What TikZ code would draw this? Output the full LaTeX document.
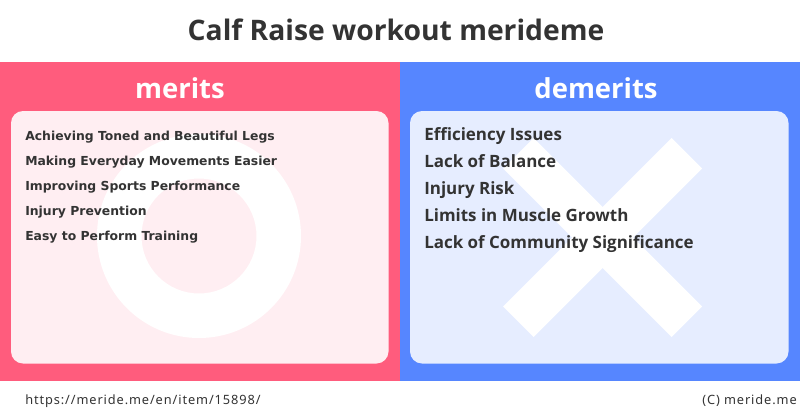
\documentclass[tikz,border=0pt]{standalone}
\usepackage{fontspec}
\setmainfont{Open Sans}
\newfontfamily\leftfont{DejaVu Sans}
\newfontfamily\footfont[LetterSpace=7]{Noto Sans}
\definecolor{pinkbar}{HTML}{FF5C7D}
\definecolor{bluebar}{HTML}{5686FF}
\definecolor{pinkcard}{HTML}{FFEEF2}
\definecolor{bluecard}{HTML}{E6EDFF}
\definecolor{ink}{HTML}{333333}
\tikzset{
  x=0.75pt,y=-0.75pt,
  head/.style={text=white,font=\bfseries\fontsize{20.6pt}{24pt}\selectfont,anchor=center,inner sep=0},
  card/.style={rounded corners=9pt},
  lefttext/.style={text=ink,font=\leftfont\bfseries\fontsize{9.3pt}{12pt}\selectfont,anchor=base west,inner sep=0},
  righttext/.style={text=ink,font=\bfseries\fontsize{12.72pt}{15pt}\selectfont,anchor=base west,inner sep=0},
  foot/.style={text=ink,font=\footfont\fontsize{9.6pt}{12pt}\selectfont,anchor=base,inner sep=0}
}
\begin{document}
\begin{tikzpicture}
\useasboundingbox (0,0) rectangle (800,418);
\fill[white] (0,0) rectangle (800,418);
\fill[pinkbar] (0,62) rectangle (400,381);
\fill[bluebar] (400,62) rectangle (800,381);
\fill[pinkcard,card] (11,111) rectangle (388.5,363.5);
\fill[bluecard,card] (410,111) rectangle (788.5,363.5);
\fill[white,even odd rule] (199,236) circle[radius=102] (199,236) circle[radius=57.5];
\fill[white] (503,306.5) -- (671.5,138) -- (702,168.5) -- (533.5,337) -- cycle;
\fill[white] (533.5,138) -- (702,306.5) -- (671.5,337) -- (503,168.5) -- cycle;
\node[text=ink,font=\bfseries\fontsize{21.2pt}{25pt}\selectfont,inner sep=0] (title) at (396,30) {Calf Raise workout merideme};
\node[head] (hl) at (180,88) {merits};
\node[head] (hr) at (596,88) {demerits};
\node[lefttext] (l1) at (25,140) {Achieving Toned and Beautiful Legs};
\node[lefttext] (l2) at (25,165) {Making Everyday Movements Easier};
\node[lefttext] (l3) at (25,190) {Improving Sports Performance};
\node[lefttext] (l4) at (25,215) {Injury Prevention};
\node[lefttext] (l5) at (25,240) {Easy to Perform Training};
\node[righttext] (r1) at (424,140) {Efficiency Issues};
\node[righttext] (r2) at (424,167) {Lack of Balance};
\node[righttext] (r3) at (424,194) {Injury Risk};
\node[righttext] (r4) at (424,221) {Limits in Muscle Growth};
\node[righttext] (r5) at (424,248) {Lack of Community Significance};
\node[foot,anchor=base west] (u) at (25,404) {https://meride.me/en/item/15898/};
\node[foot,anchor=base east] (c) at (797,404) {(C) meride.me};
\end{tikzpicture}
\end{document}
